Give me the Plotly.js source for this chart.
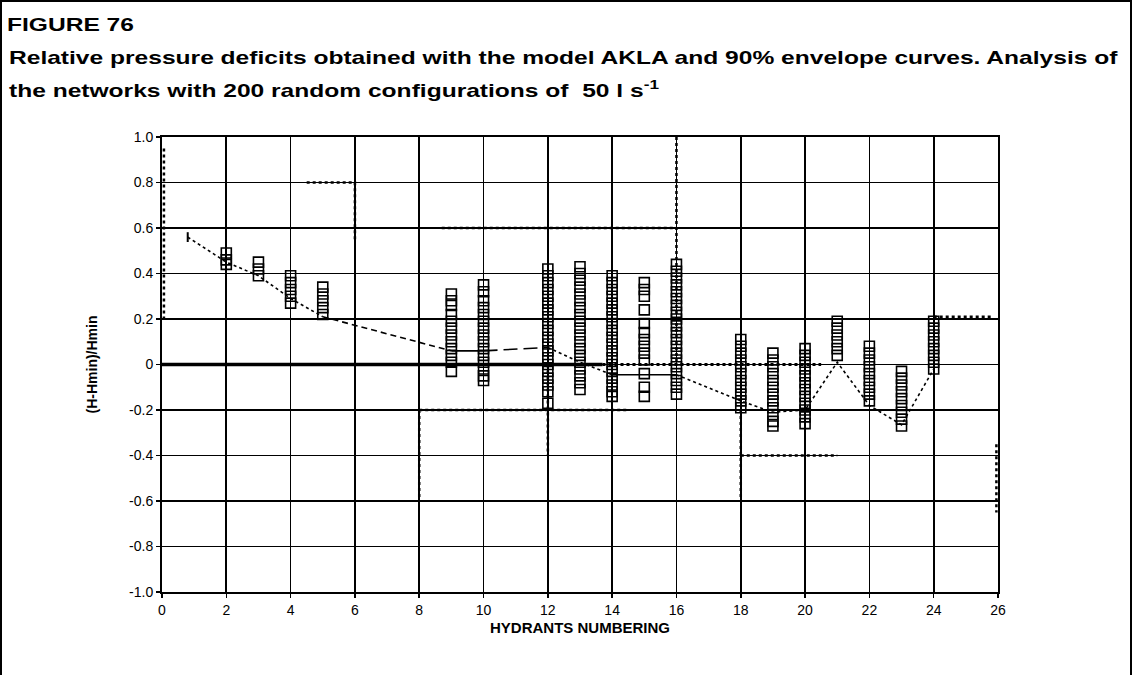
<!DOCTYPE html>
<html>
<head>
<meta charset="utf-8">
<script src="https://cdn.plot.ly/plotly-3.0.1.min.js"></script>
<style>
  html, body { margin: 0; padding: 0; background: #fff; }
  #wrap { position: relative; width: 1132px; height: 675px; overflow: hidden; }
  #chart { position: absolute; left: 0; top: 0; width: 1132px; height: 675px; }
  #frame { position: absolute; left: 0; top: 0; width: 1128px; height: 700px;
           border: 2px solid #000; border-bottom: none; pointer-events: none; }
</style>
</head>
<body>
<div id="wrap">
  <div id="chart"></div>
  <div id="frame"></div>
</div>
<script>
// ---- data ----
const xTickVals = [0, 2, 4, 6, 8, 10, 12, 14, 16, 18, 20, 22, 24, 26];
const yTickVals = [1.0, 0.8, 0.6, 0.4, 0.2, 0, -0.2, -0.4, -0.6, -0.8, -1.0];
const yTickText = ["1.0", "0.8", "0.6", "0.4", "0.2", "0", "-0.2", "-0.4", "-0.6", "-0.8", "-1.0"];

// relative pressure deficits of the 200 random configurations, per hydrant
const hydrants = [2, 3, 4, 5, 9, 10, 12, 13, 14, 15, 16, 18, 19, 20, 21, 22, 23, 24];
const h2  = [0.49, 0.46, 0.44];
const h3  = [0.45, 0.42, 0.39];
const h4  = [0.39, 0.36, 0.33, 0.30, 0.27];
const h5  = [0.34, 0.31, 0.28, 0.25, 0.22];
const h9  = [0.31, 0.28, 0.26, 0.22, 0.19, 0.16, 0.13, 0.10, 0.07, 0.04, 0.01, -0.03];
const h10 = [0.35, 0.32, 0.28, 0.25, 0.22, 0.19, 0.16, 0.13, 0.10, 0.07, 0.04, 0.01, -0.02, -0.05, -0.07];
const h12 = [0.42, 0.39, 0.36, 0.33, 0.30, 0.27, 0.24, 0.21, 0.18, 0.15, 0.12, 0.09, 0.06, 0.03, 0.00, -0.03, -0.06, -0.09, -0.12, -0.17];
const h13 = [0.43, 0.40, 0.37, 0.34, 0.31, 0.28, 0.25, 0.22, 0.19, 0.16, 0.13, 0.10, 0.07, 0.04, 0.01, -0.02, -0.05, -0.08, -0.11];
const h14 = [0.39, 0.36, 0.33, 0.30, 0.27, 0.24, 0.21, 0.18, 0.15, 0.12, 0.09, 0.06, 0.03, 0.00, -0.03, -0.06, -0.09, -0.12, -0.14];
const h15 = [0.36, 0.33, 0.30, 0.24, 0.18, 0.14, 0.11, 0.08, 0.05, 0.02, -0.04, -0.10, -0.14];
const h16 = [0.44, 0.41, 0.38, 0.35, 0.32, 0.29, 0.26, 0.23, 0.20, 0.17, 0.14, 0.11, 0.08, 0.05, 0.02, -0.01, -0.04, -0.07, -0.10, -0.13];
const h18 = [0.11, 0.08, 0.05, 0.02, -0.01, -0.04, -0.07, -0.10, -0.13, -0.16, -0.19];
const h19 = [0.05, 0.02, -0.01, -0.04, -0.07, -0.10, -0.13, -0.16, -0.19, -0.22, -0.25, -0.27];
const h20 = [0.07, 0.04, 0.01, -0.02, -0.05, -0.08, -0.11, -0.14, -0.17, -0.20, -0.23, -0.26];
const h21 = [0.19, 0.16, 0.13, 0.10, 0.07, 0.04];
const h22 = [0.08, 0.05, 0.02, -0.01, -0.04, -0.07, -0.10, -0.13, -0.16];
const h23 = [-0.03, -0.06, -0.09, -0.12, -0.15, -0.18, -0.21, -0.24, -0.27];
const h24 = [0.19, 0.16, 0.13, 0.10, 0.07, 0.04, 0.01, -0.02];
const hydrantValues = [h2, h3, h4, h5, h9, h10, h12, h13, h14, h15, h16, h18, h19, h20, h21, h22, h23, h24];

// AKLA model line
const aklaX = [0.8, 2, 3, 4, 5, 9, 10, 12, 13, 14, 15, 16, 18, 19, 20, 21, 22, 23, 24];
const aklaY = [0.56, 0.45, 0.39, 0.29, 0.21, 0.06, 0.06, 0.075, 0.01, -0.045, -0.045, -0.045, -0.16, -0.21, -0.20, 0.01, -0.18, -0.265, -0.02];

// 90% envelope curves (drawn over the grid)
const envUpperX = [0.06, 0.06, null, 4.5, 6, 6, null, 8.7, 16, null, 16, 16, null, 24, 25.8];
const envUpperY = [0.95, 0.2, null, 0.8, 0.8, 0.55, null, 0.6, 0.6, null, 1.0, 0.0, null, 0.21, 0.21];
const envLowerX = [8, 8, null, 8, 14.5, null, 12, 12, null, 18, 18, null, 18, 21, null, 25.95, 25.95];
const envLowerY = [-0.2, -0.6, null, -0.2, -0.2, null, 0.0, -0.4, null, -0.2, -0.6, null, -0.4, -0.4, null, -0.35, -0.65];
const zeroX = [0, 13.7];
const zeroY = [0, 0];
const zeroDotX = [13.7, 20.5];
const zeroDotY = [0, 0];

// ---- build traces ----
const px = [], py = [];
hydrants.forEach((h, i) => {
  hydrantValues[i].forEach(v => { px.push(h); py.push(v); });
});

const segments = [
  {from: 0, to: 4, dash: 'dot'},
  {from: 4, to: 5, dash: '6px,4px'},
  {from: 5, to: 6, dash: 'solid'},
  {from: 6, to: 7, dash: '14px,6px'},
  {from: 7, to: 9, dash: 'dot'},
  {from: 9, to: 11, dash: 'solid'},
  {from: 11, to: 18, dash: 'dot'}
];

const traces = [
  {x: zeroX, y: zeroY, mode: 'lines', line: {color: '#000', width: 3.5}, hoverinfo: 'skip', showlegend: false},
  {x: zeroDotX, y: zeroDotY, mode: 'lines', line: {color: '#000', width: 3, dash: 'dot'}, hoverinfo: 'skip', showlegend: false},
  {x: envUpperX, y: envUpperY, mode: 'lines', line: {color: '#000', width: 2.5, dash: 'dot'}, connectgaps: false, hoverinfo: 'skip', showlegend: false},
  {x: envLowerX, y: envLowerY, mode: 'lines', line: {color: '#000', width: 2.5, dash: 'dot'}, connectgaps: false, hoverinfo: 'skip', showlegend: false}
];
segments.forEach(s => {
  traces.push({
    x: aklaX.slice(s.from, s.to + 1), y: aklaY.slice(s.from, s.to + 1),
    mode: 'lines', line: {color: '#000', width: 1.6, dash: s.dash},
    showlegend: false
  });
});
traces.push({
  x: [aklaX[0]], y: [aklaY[0]], mode: 'markers',
  marker: {symbol: 'line-ns-open', size: 7, color: '#000', line: {color: '#000', width: 2}},
  showlegend: false
});
traces.push({
  x: px, y: py, mode: 'markers',
  marker: {symbol: 'square-open', size: 10, color: '#000', line: {color: '#000', width: 1.6}},
  showlegend: false
});

// ---- layout ----
const L = 162, R = 134, T = 137, B = 83;
const PW = 1132 - L - R, PH = 675 - T - B;
const xp = v => (v - L) / PW;           // pixel -> paper x
const yp = v => 1 - (v - T) / PH;       // pixel -> paper y
const FONT = '"Liberation Sans", Arial, sans-serif';
const titleFont = {family: FONT, size: 19, color: '#000'};

const layout = {
  width: 1132, height: 675,
  paper_bgcolor: '#fff', plot_bgcolor: '#fff',
  margin: {l: L, r: R, t: T, b: B, pad: 0},
  showlegend: false,
  title: {text: '<b>FIGURE 76</b>', xref: 'container', yref: 'container',
          x: 7 / 1132, xanchor: 'left', y: 1 - 18 / 675, yanchor: 'top',
          pad: {t: 0, b: 0, l: 0, r: 0}, font: titleFont},
  xaxis: {
    range: [0, 26], tickvals: xTickVals, ticktext: xTickVals.map(String),
    showgrid: true, gridcolor: '#000', gridwidth: 1.7,
    showline: true, linecolor: '#000', linewidth: 2, mirror: true,
    ticks: 'outside', ticklen: 4, tickcolor: '#000', tickwidth: 1.5,
    zeroline: false, automargin: false,
    tickfont: {family: FONT, size: 14, color: '#000'},
    title: {text: '<b>HYDRANTS NUMBERING</b>', standoff: 6,
            font: {family: FONT, size: 15, color: '#000'}}
  },
  yaxis: {
    range: [-1, 1], tickvals: yTickVals, ticktext: yTickText,
    showgrid: true, gridcolor: '#000', gridwidth: 1.7,
    showline: true, linecolor: '#000', linewidth: 2, mirror: true,
    ticks: 'outside', ticklen: 4, tickcolor: '#000', tickwidth: 1.5,
    zeroline: false, automargin: false,
    tickfont: {family: FONT, size: 14, color: '#000'},
    title: {text: '<b>(H-Hmin)/Hmin</b>', standoff: 28,
            font: {family: FONT, size: 14, color: '#000'}}
  },
  annotations: [
    {text: '<b>Relative pressure deficits obtained with the model AKLA and 90% envelope curves. Analysis of</b>',
     xref: 'paper', yref: 'paper', x: xp(7), y: yp(45),
     xanchor: 'left', yanchor: 'top', showarrow: false, font: titleFont, align: 'left'},
    {text: '<b>the networks with 200 random configurations of  50 l s<sup>-1</sup></b>',
     xref: 'paper', yref: 'paper', x: xp(7), y: yp(75),
     xanchor: 'left', yanchor: 'top', showarrow: false, font: titleFont, align: 'left'}
  ]
};

const TITLE_WIDTH = 1110;   // width of the long title line in the scan

Plotly.newPlot('chart', traces, layout, {staticPlot: true, displayModeBar: false}).then(gd => {
  // the scanned title lettering is wider than Arial: stretch it horizontally
  const texts = [
    gd.querySelector('g.annotation[data-index="0"] text.annotation-text'),
    gd.querySelector('g.annotation[data-index="1"] text.annotation-text'),
    gd.querySelector('.g-gtitle text')
  ];
  if (texts.every(t => t)) {
    const ref = texts[0].getBBox();
    const f = TITLE_WIDTH / ref.width;
    texts.forEach(t => {
      const bb = t.getBBox();
      const prev = t.getAttribute('transform') || '';
      t.setAttribute('transform', 'translate(' + (bb.x * (1 - f)) + ',0) scale(' + f + ',1) ' + prev);
    });
  }
});
</script>
</body>
</html>
